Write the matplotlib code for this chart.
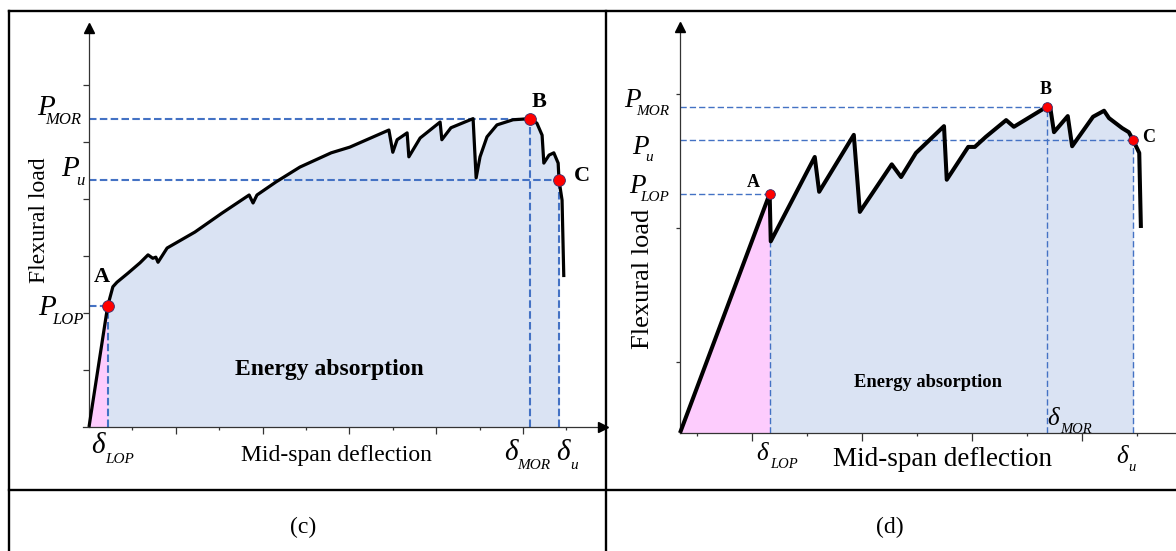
import numpy as np
import matplotlib
matplotlib.use("Agg")
import matplotlib.pyplot as plt
import matplotlib.transforms as mtransforms
from matplotlib.lines import Line2D

# ---------------- data ----------------
# Panel (c): load-deflection record (deflection units, load units)
C_DEFL = [0.0, 0.43, 0.55, 0.645, 0.90, 1.175, 1.36, 1.47, 1.54, 1.59, 1.80, 2.44,
          3.06, 3.69, 3.78, 3.87, 4.31, 4.86, 5.58, 6.01, 6.91, 7.00, 7.10, 7.33,
          7.37, 7.63, 8.09, 8.13, 8.34, 8.85, 8.92, 9.01, 9.17, 9.40, 9.77, 10.17,
          10.32, 10.44, 10.48, 10.60, 10.71, 10.81, 10.83, 10.90, 10.94]
C_LOAD = [0.0, 2.12, 2.46, 2.54, 2.70, 2.88, 3.02, 2.96, 2.98, 2.89, 3.14, 3.42,
          3.75, 4.07, 3.93, 4.07, 4.30, 4.56, 4.81, 4.91, 5.21, 4.82, 5.04, 5.16,
          4.74, 5.07, 5.35, 5.04, 5.25, 5.41, 4.37, 4.74, 5.09, 5.30, 5.39, 5.41,
          5.33, 5.12, 4.63, 4.77, 4.81, 4.63, 4.33, 3.98, 2.63]
C_KEY = {"A": 1, "B": 35, "C": 42}          # LOP, MOR, ultimate
C_YTICKS = [1, 2, 3, 4, 5, 6]
C_XTICKS_MAJOR = [2, 4, 6, 8, 10]
C_XTICKS_MINOR = [1, 3, 5, 7, 9, 11]

# Panel (d)
D_DEFL = [0.0, 1.63, 1.65, 2.45, 2.53, 3.16, 3.27, 3.85, 4.02, 4.29, 4.80, 4.85,
          5.24, 5.36, 5.56, 5.93, 6.07, 6.67, 6.73, 6.80, 7.05, 7.13, 7.51, 7.71,
          7.80, 8.04, 8.16, 8.24, 8.35, 8.38]
D_LOAD = [0.0, 3.57, 2.86, 4.12, 3.60, 4.45, 3.30, 4.01, 3.82, 4.18, 4.58, 3.78,
          4.27, 4.27, 4.42, 4.67, 4.57, 4.87, 4.87, 4.49, 4.73, 4.28, 4.72, 4.81,
          4.70, 4.55, 4.49, 4.37, 4.18, 3.06]
D_KEY = {"A": 1, "B": 17, "C": 27}
D_YTICKS = [1.06, 3.06, 5.06]
D_XTICKS_MAJOR = [1.31, 3.31, 5.31, 7.31]
D_XTICKS_MINOR = [0.31, 2.31, 4.31, 6.31, 8.31]

CAPTIONS = ["(c)", "(d)"]
X_LABEL = "Mid-span deflection"
Y_LABEL = "Flexural load"
AREA_LABEL = "Energy absorption"

# ---------------- style ----------------
SERIF = "Liberation Serif"
BLUE_FILL = "#dae3f3"
PINK_FILL = "#fdccfd"
DASH = "#4472c4"
AXIS_C = "#333333"

W, H = 1176, 551
fig = plt.figure(figsize=(W / 100, H / 100), dpi=100)


def make_panel(ox, oy, ux, uy, box):
    """Axes over pixel box, with data origin at pixel (ox, oy) and ux/uy px per unit."""
    x0, y0, x1, y1 = box
    ax = fig.add_axes([x0 / W, 1 - y1 / H, (x1 - x0) / W, (y1 - y0) / H])
    ax.set_xlim((x0 - ox) / ux, (x1 - ox) / ux)
    ax.set_ylim((oy - y1) / uy, (oy - y0) / uy)
    ax.patch.set_alpha(0)
    return ax


def off(ax, dx, dy):
    return mtransforms.offset_copy(ax.transData, fig=fig, x=dx, y=dy, units="dots")


def sym(ax, x, y, main, sub, d_main, d_sub, size, ssize):
    ax.text(x, y, main, transform=off(ax, *d_main), fontsize=size, fontstyle="italic",
            family=SERIF, ha="left", va="baseline")
    ax.text(x, y, sub, transform=off(ax, *d_sub), fontsize=ssize, fontstyle="italic",
            family=SERIF, ha="left", va="baseline")


def setup_axes(ax, xmin, xmax, ytop, yticks, xmaj, xmin_t, ylen, xmaj_len, xmin_len,
               x_arrow=True):
    for s in ("top", "right"):
        ax.spines[s].set_visible(False)
    ax.spines["left"].set_position(("data", 0))
    ax.spines["bottom"].set_position(("data", 0))
    ax.spines["left"].set_bounds(0, ytop)
    ax.spines["bottom"].set_bounds(xmin, xmax)
    for s in ("left", "bottom"):
        ax.spines[s].set_color(AXIS_C)
        ax.spines[s].set_linewidth(0.9)
    ax.set_yticks(yticks)
    ax.set_xticks(xmaj)
    ax.set_xticks(xmin_t, minor=True)
    ax.set_yticks([], minor=True)
    ax.tick_params(axis="y", direction="out", length=ylen, width=0.9, color=AXIS_C,
                   labelleft=False)
    ax.tick_params(axis="x", which="major", direction="out", length=xmaj_len, width=0.9,
                   color=AXIS_C, labelbottom=False)
    ax.tick_params(axis="x", which="minor", direction="out", length=xmin_len, width=0.9,
                   color=AXIS_C)
    ax.plot([0], [ytop], marker="^", ms=7, color="k", clip_on=False, zorder=6)
    if x_arrow:
        ax.plot([xmax], [0], marker=">", ms=7, color="k", clip_on=False, zorder=6)


def draw_curve(ax, x, y, key, lw, ms, dash_lw, dash_pat):
    x = np.asarray(x)
    y = np.asarray(y)
    ia, ib, ic = key["A"], key["B"], key["C"]
    ax.fill_between(x[:ia + 1], 0, y[:ia + 1], color=PINK_FILL, lw=0, zorder=1)
    ax.fill_between(x[ia:ic + 1], 0, y[ia:ic + 1], color=BLUE_FILL, lw=0, zorder=1)
    for i in (ia, ib, ic):
        ax.plot([0, x[i]], [y[i], y[i]], color=DASH, lw=dash_lw, dashes=dash_pat, zorder=2)
        ax.plot([x[i], x[i]], [0, y[i]], color=DASH, lw=dash_lw, dashes=dash_pat, zorder=2)
    ax.plot(x, y, color="k", lw=lw, solid_joinstyle="round", solid_capstyle="butt", zorder=4)
    ax.plot(x[[ia, ib, ic]], y[[ia, ib, ic]], "o", color="#ff0000", mec="#3a2f6b",
            mew=0.6, ms=ms, zorder=5)
    return x, y


# ---------------- table frame ----------------
def hline(y, x0, x1):
    fig.add_artist(Line2D([x0 / W, x1 / W], [1 - y / H, 1 - y / H], color="k", lw=1.7,
                          transform=fig.transFigure))


def vline(x, y0, y1):
    fig.add_artist(Line2D([x / W, x / W], [1 - y0 / H, 1 - y1 / H], color="k", lw=1.7,
                          transform=fig.transFigure))


hline(11, 9, W)
hline(490, 9, W)
vline(9, 11, H)
vline(606, 11, H)

fig.text(303 / W, 1 - 527 / H, CAPTIONS[0], fontsize=17, family=SERIF, ha="center",
         va="center")
fig.text(890 / W, 1 - 527 / H, CAPTIONS[1], fontsize=17, family=SERIF, ha="center",
         va="center")

# ---------------- panel (c) ----------------
axc = make_panel(89, 427, 43.4, 57.0, (12, 14, 603, 487))
setup_axes(axc, -0.14, 11.85, 7.0, C_YTICKS, C_XTICKS_MAJOR, C_XTICKS_MINOR, 4.3, 5, 2.2)
cx, cy = draw_curve(axc, C_DEFL, C_LOAD, C_KEY, lw=2.3, ms=8.5, dash_lw=1.5,
                    dash_pat=(3.6, 1.6))
ia, ib, ic = C_KEY["A"], C_KEY["B"], C_KEY["C"]

sym(axc, 0, cy[ib], "P", "MOR", (-52, 4), (-44, -5), 21, 12)
sym(axc, 0, cy[ic], "P", "u", (-28, 4), (-13, -5), 21, 12)
sym(axc, 0, cy[ia], "P", "LOP", (-51, -9), (-37, -18), 21, 12)
sym(axc, cx[ia], 0, "δ", "LOP", (-17, -26), (-2, -36), 21, 11)
sym(axc, cx[ib], 0, "δ", "MOR", (-26, -33), (-13, -42), 21, 11)
sym(axc, cx[ic], 0, "δ", "u", (-3, -33), (11, -42), 21, 11)

for name, i, dx, dy in (("A", ia, -6, 29), ("B", ib, 9, 17), ("C", ic, 23, 4)):
    axc.text(cx[i], cy[i], name, transform=off(axc, dx, dy), fontsize=16,
             fontweight="bold", family=SERIF, ha="center", va="center")

axc.text(5.53, 1.0, AREA_LABEL, fontsize=17, fontweight="bold", family=SERIF,
         ha="center", va="center", zorder=3)
axc.text(5.69, 0, X_LABEL, transform=off(axc, 0, -28), fontsize=17, family=SERIF,
         ha="center", va="center")
axc.text(0, 3.635, Y_LABEL, transform=off(axc, -49, 0), fontsize=17, family=SERIF,
         rotation=90, ha="center", va="center")

# ---------------- panel (d) ----------------
axd = make_panel(680, 433, 55.0, 67.0, (609, 14, W, 487))
setup_axes(axd, 0, 9.05, 6.06, D_YTICKS, D_XTICKS_MAJOR, D_XTICKS_MINOR, 3, 5.8, 2.2,
           x_arrow=False)
dx_, dy_ = draw_curve(axd, D_DEFL, D_LOAD, D_KEY, lw=2.9, ms=7, dash_lw=1.0,
                      dash_pat=(4.5, 2.2))
ia, ib, ic = D_KEY["A"], D_KEY["B"], D_KEY["C"]

sym(axd, 0, dy_[ib], "P", "MOR", (-56, 0), (-44, -8), 19.5, 11)
sym(axd, 0, dy_[ic], "P", "u", (-48, -14), (-35, -21), 19.5, 11)
sym(axd, 0, dy_[ia], "P", "LOP", (-51, 1), (-40, -7), 19.5, 11)
sym(axd, dx_[ia], 0, "δ", "LOP", (-13, -27), (1, -35), 18, 10.5)
sym(axd, dx_[ib], 0, "δ", "MOR", (0, 8), (13, 0), 18, 10.5)
sym(axd, dx_[ic], 0, "δ", "u", (-17, -30), (-5, -38), 18, 10.5)

for name, i, ddx, ddy in (("A", ia, -16, 11), ("B", ib, -1, 17), ("C", ic, 15, 3)):
    axd.text(dx_[i], dy_[i], name, transform=off(axd, ddx, ddy), fontsize=13,
             fontweight="bold", family=SERIF, ha="center", va="center")

axd.text(4.51, 0.76, AREA_LABEL, fontsize=13.3, fontweight="bold", family=SERIF,
         ha="center", va="center", zorder=3)
axd.text(4.78, 0, X_LABEL, transform=off(axd, 0, -26), fontsize=19.5, family=SERIF,
         ha="center", va="center")
axd.text(0, 2.3, Y_LABEL, transform=off(axd, -37, 0), fontsize=19, family=SERIF,
         rotation=90, ha="center", va="center")

fig.savefig("out.png", dpi=100)
